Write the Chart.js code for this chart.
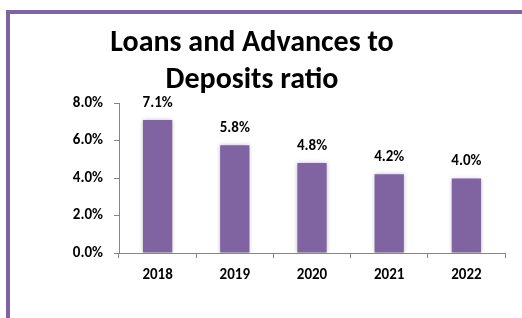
<!DOCTYPE html>
<html>
<head>
<meta charset="utf-8">
<script src="https://cdn.jsdelivr.net/npm/chart.js@4"></script>
<style>
  html, body { margin: 0; padding: 0; background: #fff; overflow: hidden; }
  #wrap { position: relative; width: 522px; height: 318px; }
  #frame { position: absolute; left: 6px; top: 10px; width: 530px; height: 330px;
           border: 4px solid #8064A2; box-sizing: border-box; }
  canvas { position: absolute; left: 0; top: 0; }
</style>
</head>
<body>
<div id="wrap">
  <div id="frame"></div>
  <canvas id="ratio" width="522" height="318"></canvas>
</div>
<script>
const years = ["2018", "2019", "2020", "2021", "2022"];
const ratioValues = [7.1, 5.75, 4.8, 4.2, 3.97];
const yTicks = [0, 2, 4, 6, 8];
const titleLines = ["Loans and Advances to", "Deposits ratio"];

const FONT = "Calibri, Carlito, Lato, 'Open Sans', sans-serif";

// title + value labels drawn on top
const extras = {
  id: "extras",
  beforeDatasetsDraw(chart) {
    const ctx = chart.ctx;
    ctx.save();
    ctx.shadowColor = "rgba(0,0,0,0.25)";
    ctx.shadowBlur = 4;
  },
  afterDatasetsDraw(chart) {
    const ctx = chart.ctx;
    ctx.restore();
    ctx.save();
    ctx.fillStyle = "#000";
    ctx.textAlign = "center";
    ctx.textBaseline = "middle";
    ctx.font = "bold 15px " + FONT;
    chart.getDatasetMeta(0).data.forEach(function (bar, i) {
      ctx.fillText(ratioValues[i].toFixed(1) + "%", bar.x, bar.y - 17);
    });
    ctx.font = "bold 30px " + FONT;
    ctx.fillText(titleLines[0], 252, 43);
    ctx.fillText(titleLines[1], 252, 80);
    ctx.restore();
  },
};

new Chart(document.getElementById("ratio"), {
  type: "bar",
  data: {
    labels: years,
    datasets: [{
      data: ratioValues,
      backgroundColor: "#8064A2",
      borderWidth: 0,
      categoryPercentage: 1,
      barPercentage: 0.38,
    }],
  },
  options: {
    responsive: false,
    animation: false,
    devicePixelRatio: 1,
    layout: { padding: { left: 0, top: 103, right: 17, bottom: 25 } },
    plugins: { legend: { display: false }, tooltip: { enabled: false } },
    scales: {
      x: {
        offset: true,
        afterFit(axis) { axis.height = 40; },
        border: { color: "#868686", width: 1 },
        grid: { offset: true, drawOnChartArea: false, drawTicks: true, tickLength: 5, color: "#868686" },
        ticks: { color: "#000", font: { family: FONT, size: 15, weight: "bold" }, padding: 8 },
      },
      y: {
        min: 0,
        max: 8,
        afterFit(axis) { axis.width = 119; },
        afterBuildTicks(axis) { axis.ticks = yTicks.map(v => ({ value: v })); },
        border: { color: "#868686", width: 1 },
        grid: { drawOnChartArea: false, drawTicks: true, tickLength: 5, color: "#868686" },
        ticks: {
          color: "#000",
          font: { family: FONT, size: 15, weight: "bold" },
          padding: 11,
          callback: v => v.toFixed(1) + "%",
        },
      },
    },
  },
  plugins: [extras],
});
</script>
</body>
</html>
